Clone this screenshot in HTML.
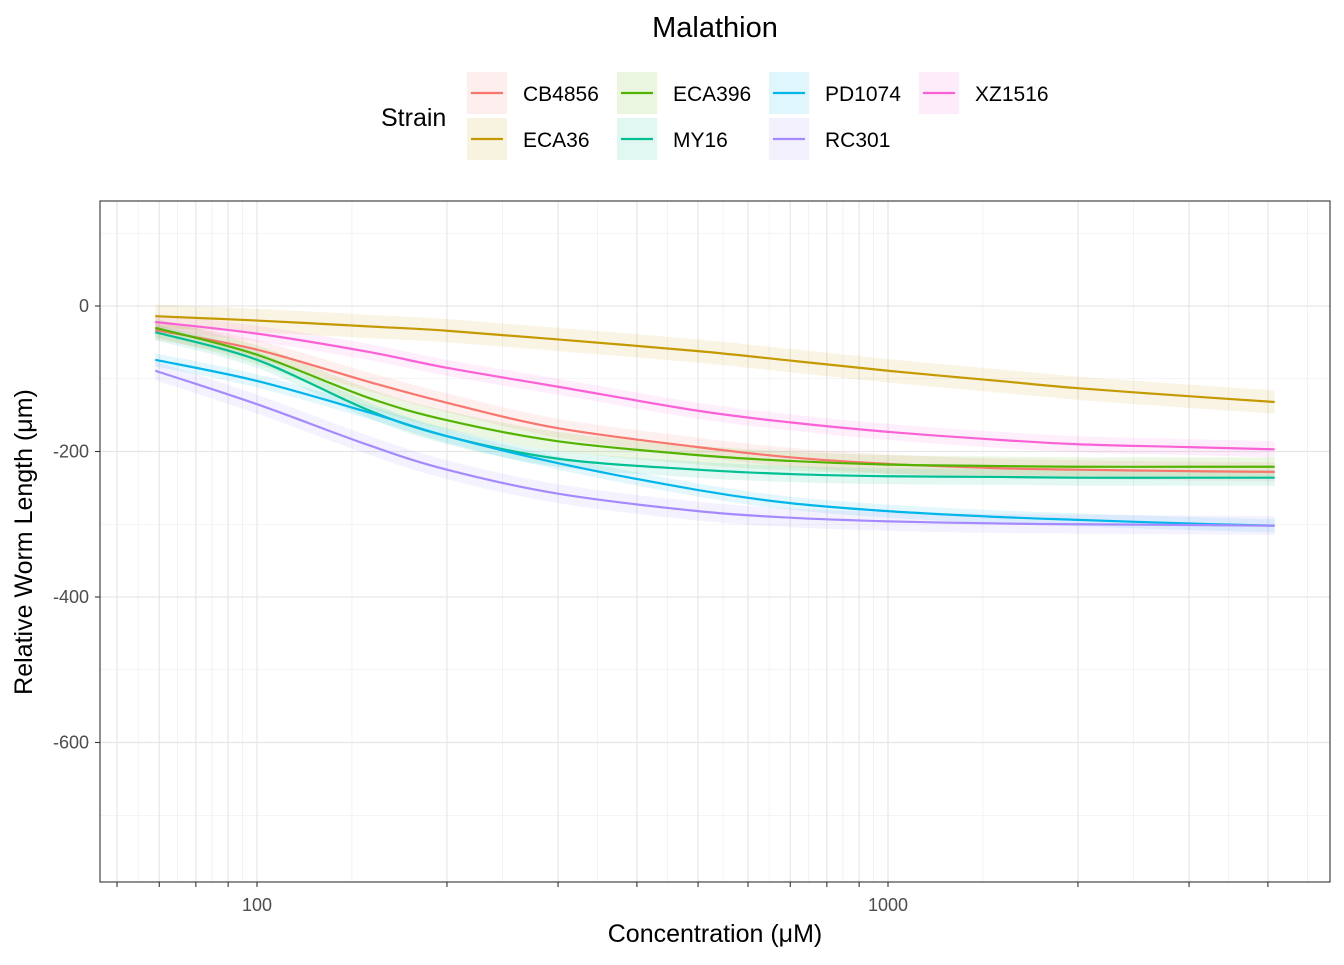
<!DOCTYPE html>
<html><head><meta charset="utf-8"><style>
body{margin:0;background:#fff;}
svg text{font-family:"Liberation Sans",Arial,sans-serif;}
</style></head><body>
<svg id="chart" width="1344" height="960" viewBox="0 0 1344 960" xmlns="http://www.w3.org/2000/svg">
<text x="715" y="37" text-anchor="middle" font-size="29" fill="#000">Malathion</text>
<g id="legend"></g>
<g id="grid"></g>
<g id="ribbons"></g>
<g id="lines"></g>
<rect x="100" y="201" width="1230" height="681" fill="none" stroke="#333" stroke-width="1.1"/>
<g id="axes"></g>
<text x="715" y="942" text-anchor="middle" font-size="25" fill="#000">Concentration (μM)</text>
<text transform="translate(32,542) rotate(-90)" text-anchor="middle" font-size="25" fill="#000">Relative Worm Length (μm)</text>
</svg>
<script>
const strains = ["CB4856","ECA36","ECA396","MY16","PD1074","RC301","XZ1516"];
const colors = ["#F8766D","#C49A00","#53B400","#00C094","#00B6EB","#A58AFF","#FB61D7"];
const concentrations = [69,100,150,200,300,500,700,1000,1500,2000,3000,4100];
const valCB4856 = [-33,-60,-104,-133,-168,-194,-208,-217,-223,-225,-227,-228];
const valECA36  = [-14,-20,-28,-34,-46,-62,-75,-89,-103,-113,-124,-132];
const valECA396 = [-30,-67,-126,-157,-186,-205,-213,-218,-220,-221,-221,-221];
const valMY16   = [-36,-74,-143,-179,-210,-225,-231,-234,-235,-236,-236,-236];
const valPD1074 = [-74,-103,-146,-179,-216,-253,-271,-282,-290,-294,-299,-302];
const valRC301  = [-89,-135,-191,-225,-258,-282,-291,-296,-299,-300,-301,-302];
const valXZ1516 = [-22,-38,-63,-85,-111,-144,-160,-173,-184,-190,-194,-197];
const ciWidth = [13,16,13,11,9,13,11];
const yTicks = [0,-200,-400,-600];
const yMinor = [100,-100,-300,-500,-700];
const xTicks = [60,70,80,90,100,200,300,400,500,600,700,800,900,1000,2000,3000,4000];
const xLabels = [100,1000];
const series = [valCB4856,valECA36,valECA396,valMY16,valPD1074,valRC301,valXZ1516];

const NS="http://www.w3.org/2000/svg";
const X0=100,X1=1330,Y0=201,Y1=882;
const xs = c => 257 + 631*Math.log10(c/100);
const ys = v => 306 - v*0.7275;
function mk(tag,attrs,parent){const e=document.createElementNS(NS,tag);for(const k in attrs)e.setAttribute(k,attrs[k]);parent.appendChild(e);return e;}
const grid=document.getElementById('grid'),axes=document.getElementById('axes');
const xMinor=[];
const lx=xTicks.map(Math.log10);
xMinor.push(Math.pow(10,lx[0]-(lx[1]-lx[0])/2));
for(let i=0;i<lx.length-1;i++)xMinor.push(Math.pow(10,(lx[i]+lx[i+1])/2));
xMinor.push(Math.pow(10,lx[lx.length-1]+(lx[lx.length-1]-lx[lx.length-2])/2));
xMinor.forEach(c=>{const x=xs(c);if(x>X0&&x<X1){const l=mk('line',{x1:x,x2:x,y1:Y0,y2:Y1,stroke:'#ebebeb','stroke-width':0.6},grid);

}});
yMinor.forEach(v=>{const y=ys(v);const l=mk('line',{x1:X0,x2:X1,y1:y,y2:y,stroke:'#ebebeb','stroke-width':0.6},grid);

});
xTicks.forEach(c=>{const x=xs(c);const l=mk('line',{x1:x,x2:x,y1:Y0,y2:Y1,stroke:'#e6e6e6','stroke-width':1.2},grid);


const t=mk('line',{x1:x,x2:x,y1:Y1,y2:Y1+5,stroke:'#333','stroke-width':1.1},axes);

});
yTicks.forEach(v=>{const y=ys(v);const l=mk('line',{x1:X0,x2:X1,y1:y,y2:y,stroke:'#e6e6e6','stroke-width':1.2},grid);


const t=mk('line',{x1:X0-5,x2:X0,y1:y,y2:y,stroke:'#333','stroke-width':1.1},axes);


const tx=mk('text',{x:X0-11,y:y+6,'text-anchor':'end','font-size':18,fill:'#4d4d4d'},axes);tx.textContent=v;

});
xLabels.forEach(c=>{const tx=mk('text',{x:xs(c),y:Y1+29,'text-anchor':'middle','font-size':18,fill:'#4d4d4d'},axes);tx.textContent=c;

});

function curve(pts){
  let d=`M${pts[0][0]},${pts[0][1]}`;
  for(let i=0;i<pts.length-1;i++){const p0=pts[Math.max(i-1,0)],p1=pts[i],p2=pts[i+1],p3=pts[Math.min(i+2,pts.length-1)];
    d+=`C${p1[0]+(p2[0]-p0[0])/6},${p1[1]+(p2[1]-p0[1])/6} ${p2[0]-(p3[0]-p1[0])/6},${p2[1]-(p3[1]-p1[1])/6} ${p2[0]},${p2[1]}`;}
  return d;}
const rib=document.getElementById('ribbons'),lines=document.getElementById('lines');
series.forEach((vals,i)=>{
  const up=concentrations.map((c,j)=>[xs(c),ys(vals[j]+ciWidth[i])]);
  const lo=concentrations.map((c,j)=>[xs(c),ys(vals[j]-ciWidth[i])]).reverse();
  const d=curve(up)+curve(lo).replace('M','L')+'Z';
  const r=mk('path',{d:d,fill:colors[i],'fill-opacity':0.11,stroke:'none'},rib);
  
  
});
series.forEach((vals,i)=>{
  const pts=concentrations.map((c,j)=>[xs(c),ys(vals[j])]);
  const p=mk('path',{d:curve(pts),fill:'none',stroke:colors[i],'stroke-width':2.2},lines);
  
  
});
const lg=document.getElementById('legend');
const lt=mk('text',{x:381,y:126,'font-size':25,fill:'#000'},lg);lt.textContent='Strain';


const colX=[467,617,769,919],rowY=[72,118];
strains.forEach((s,i)=>{
  const c=Math.floor(i/2),r=i%2;const kx=colX[c],ky=rowY[r];
  const g=mk('g',{},lg);
  
  
  mk('rect',{x:kx,y:ky,width:40,height:42,fill:colors[i],'fill-opacity':0.12},g);
  mk('line',{x1:kx+4,x2:kx+36,y1:ky+21,y2:ky+21,stroke:colors[i],'stroke-width':2.2},g);
  const t=mk('text',{x:kx+56,y:ky+29,'font-size':21,fill:'#000'},g);t.textContent=s;
});
</script>
</body></html>
